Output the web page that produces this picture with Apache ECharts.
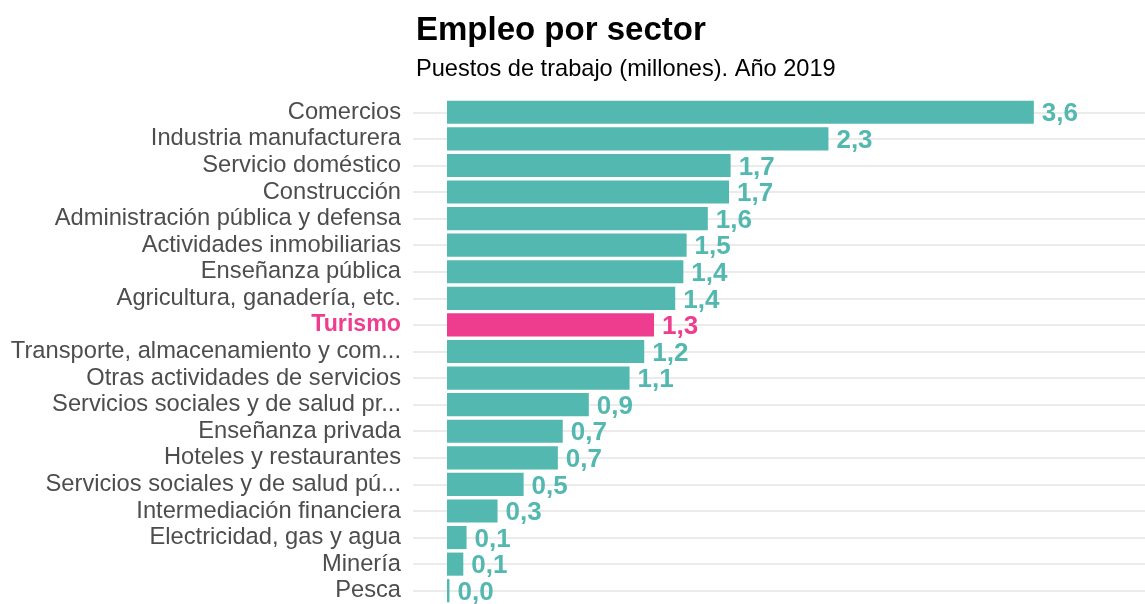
<!DOCTYPE html>
<html>
<head>
<meta charset="utf-8">
<script src="https://cdn.jsdelivr.net/npm/echarts@6/dist/echarts.min.js"></script>
<style>
  html,body{margin:0;padding:0;background:#fff;}
  #chart{width:1145px;height:604px;}
</style>
</head>
<body>
<div id="chart"></div>
<script>
  // sectores, de mayor a menor
  var sectores = ['Comercios', 'Industria manufacturera', 'Servicio doméstico', 'Construcción',
    'Administración pública y defensa', 'Actividades inmobiliarias', 'Enseñanza pública',
    'Agricultura, ganadería, etc.', 'Turismo', 'Transporte, almacenamiento y com...',
    'Otras actividades de servicios', 'Servicios sociales y de salud pr...', 'Enseñanza privada',
    'Hoteles y restaurantes', 'Servicios sociales y de salud pú...', 'Intermediación financiera',
    'Electricidad, gas y agua', 'Minería', 'Pesca'];
  // puestos de trabajo (millones)
  var puestos = [3.60, 2.34, 1.74, 1.73, 1.60, 1.47, 1.45, 1.40, 1.27, 1.21,
    1.12, 0.87, 0.71, 0.68, 0.47, 0.31, 0.12, 0.10, 0.015];
  var destacado = 'Turismo';

  var verde = '#52b8b0';
  var rosa = '#ee3d8e';
  var fuente = '"Liberation Sans", Arial, sans-serif';

  var chart = echarts.init(document.getElementById('chart'));

  var datos = [];
  for (var i = 0; i < puestos.length; i++) {
    var c = sectores[i] === destacado ? rosa : verde;
    datos.push({
      value: puestos[i],
      itemStyle: { color: c },
      label: { color: c }
    });
  }

  var option = {
    animation: false,
    title: {
      text: 'Empleo por sector',
      subtext: 'Puestos de trabajo (millones). Año 2019',
      left: 411,
      top: 9,
      itemGap: 10,
      textStyle: { fontFamily: fuente, fontSize: 33, fontWeight: 'bold', color: '#000' },
      subtextStyle: { fontFamily: fuente, fontSize: 23.6, color: '#000' }
    },
    grid: { left: 413, right: 0, top: 99, height: 507, containLabel: false },
    xAxis: {
      type: 'value',
      min: -0.2086,
      max: 4.282,
      show: false
    },
    yAxis: {
      type: 'category',
      data: sectores,
      inverse: true,
      axisLine: { show: false },
      axisTick: { show: false },
      axisLabel: {
        interval: 0,
        margin: 12,
        fontFamily: fuente,
        fontSize: 23.7,
        color: '#4d4d4d',
        formatter: function (v) { return v === destacado ? '{d|' + v + '}' : v; },
        rich: {
          d: { fontFamily: fuente, fontSize: 23.2, fontWeight: 'bold', color: rosa }
        }
      },
      splitLine: {
        show: true,
        interval: 0,
        alignWithLabel: true,
        lineStyle: { color: '#ebebeb', width: 2 }
      }
    },
    series: [{
      type: 'bar',
      data: datos,
      barCategoryGap: '13%',
      label: {
        show: true,
        position: 'right',
        distance: 8,
        offset: [0, 2],
        fontFamily: fuente,
        fontSize: 26,
        fontWeight: 'bold',
        formatter: function (p) { return p.value.toFixed(1).replace('.', ','); }
      }
    }]
  };

  chart.setOption(option);
</script>
</body>
</html>
